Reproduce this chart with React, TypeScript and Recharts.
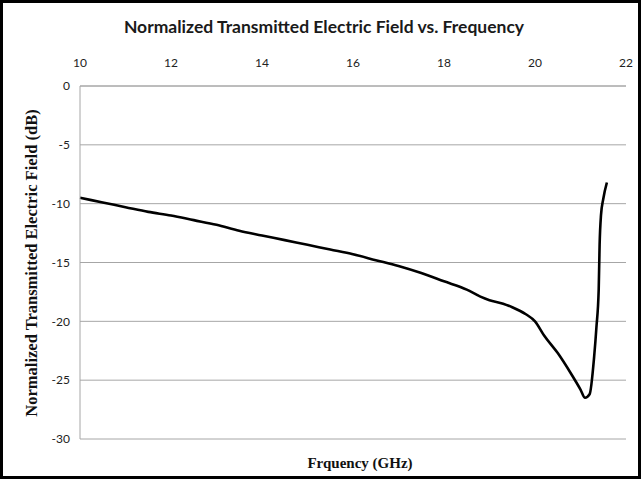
import { LineChart, Line, XAxis, YAxis, CartesianGrid } from 'recharts'

const freq = [
  10.0, 10.5, 11.0, 11.5, 12.0, 12.5, 13.0, 13.5, 14.0, 14.5, 15.0, 15.5, 16.0, 16.5, 17.0, 17.5,
  18.0, 18.5, 18.8, 19.0, 19.3, 19.5, 19.8, 20.0, 20.2, 20.5, 20.8, 21.0, 21.1, 21.2, 21.3, 21.35,
  21.4, 21.42, 21.45, 21.5, 21.58,
]
const field = [
  -9.5, -9.9, -10.3, -10.7, -11.0, -11.4, -11.8, -12.3, -12.7, -13.1, -13.5, -13.9, -14.3, -14.8, -15.3, -15.9,
  -16.6, -17.3, -17.9, -18.2, -18.5, -18.8, -19.4, -20.0, -21.2, -22.7, -24.5, -25.8, -26.5, -26.2, -23.0, -20.5,
  -17.3, -13.5, -11.0, -9.6, -8.2,
]
const xTicks = [10, 12, 14, 16, 18, 20, 22]
const yTicks = [0, -5, -10, -15, -20, -25, -30]

const data = freq.map((f, i) => ({ f, v: field[i] }))

const tickStyle = { fontSize: 12, fill: '#222', fontFamily: 'Lato, sans-serif' }

export default function App() {
  return (
    <div
      style={{
        position: 'fixed',
        left: 0,
        top: 0,
        width: 641,
        height: 479,
        background: '#fff',
        border: '3px solid #000',
        boxSizing: 'border-box',
      }}
    >
      <div
        style={{
          position: 'absolute',
          left: -3,
          top: 13,
          width: 648,
          textAlign: 'center',
          fontFamily: 'Lato, sans-serif',
          fontWeight: 700,
          fontSize: 17.5,
          color: '#1a1a1a',
        }}
      >
        Normalized Transmitted Electric Field vs. Frequency
      </div>
      <div style={{ position: 'absolute', left: -3, top: -3 }}>
        <LineChart width={641} height={479} data={data} margin={{ top: 40, right: 15, bottom: 40, left: 0 }}>
          <CartesianGrid vertical={false} stroke="#a6a6a6" />
          <XAxis
            dataKey="f"
            type="number"
            orientation="top"
            domain={[10, 22]}
            ticks={xTicks}
            height={46}
            tickSize={0}
            tickMargin={19}
            axisLine={{ stroke: '#a6a6a6' }}
            tick={tickStyle}
            label={{
              value: 'Frquency (GHz)',
              content: () => (
                <text
                  x={360}
                  y={468}
                  textAnchor="middle"
                  fontFamily="'Liberation Serif', serif"
                  fontWeight={700}
                  fontSize={15}
                  fill="#111"
                >
                  Frquency (GHz)
                </text>
              ),
            }}
          />
          <YAxis
            type="number"
            domain={[-30, 0]}
            ticks={yTicks}
            width={80}
            tickSize={0}
            tickMargin={10}
            axisLine={{ stroke: '#a6a6a6' }}
            tick={tickStyle}
            label={{
              value: 'Normalized Transmitted Electric Field (dB)',
              content: () => (
                <text
                  x={37}
                  y={263}
                  transform="rotate(-90 37 263)"
                  textAnchor="middle"
                  fontFamily="'Liberation Serif', serif"
                  fontWeight={700}
                  fontSize={16.5}
                  fill="#111"
                >
                  Normalized Transmitted Electric Field (dB)
                </text>
              ),
            }}
          />
          <Line
            type="monotone"
            dataKey="v"
            stroke="#000"
            strokeWidth={2.6}
            dot={false}
            isAnimationActive={false}
          />
        </LineChart>
      </div>
    </div>
  )
}
